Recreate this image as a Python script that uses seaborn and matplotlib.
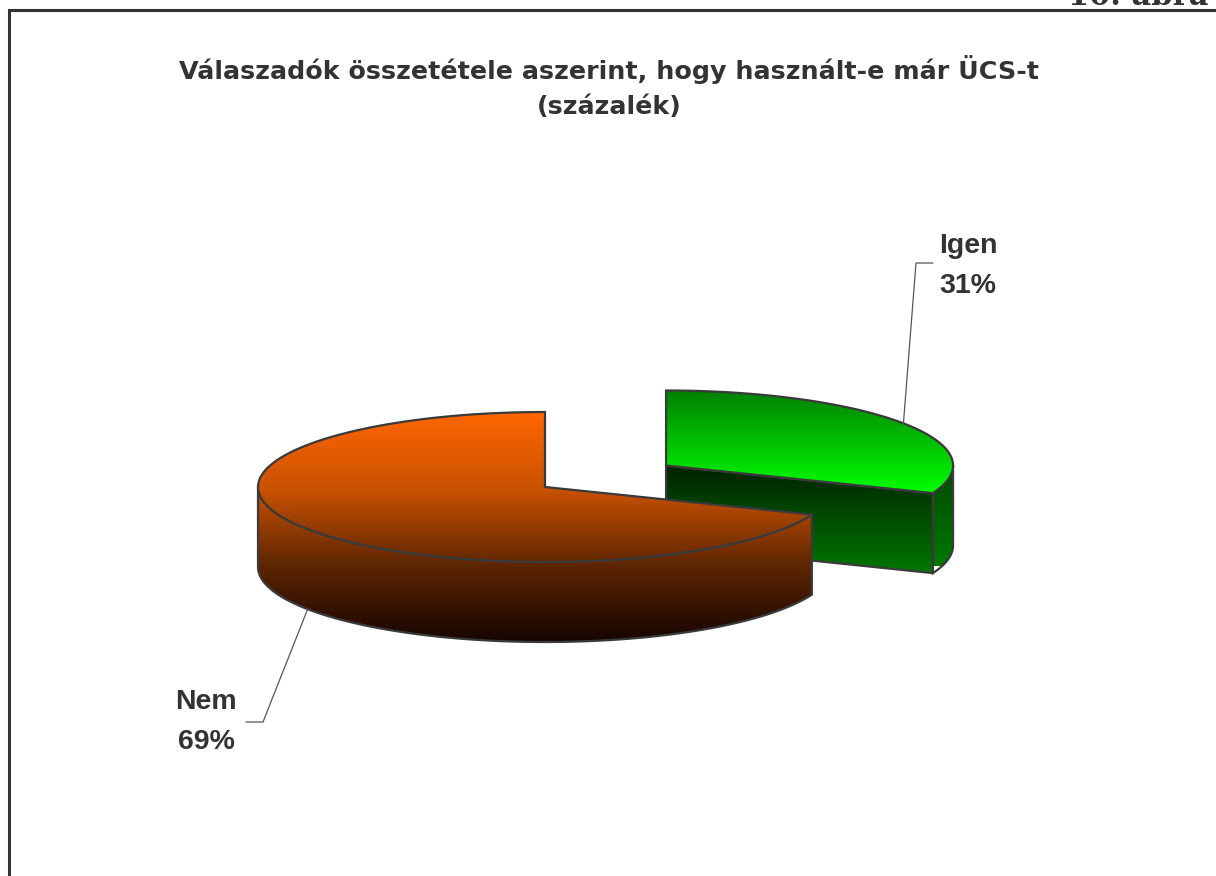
import numpy as np
import seaborn as sns
import matplotlib.pyplot as plt
from matplotlib.patches import Polygon

# data
labels = ["Igen", "Nem"]
values = [31, 69]
title = "Válaszadók összetétele aszerint, hogy használt-e már ÜCS-t\n(százalék)"

sns.set_theme(style="white")
plt.rcParams['font.family'] = ['Liberation Sans', 'DejaVu Sans']

fig = plt.figure(figsize=(12.16, 8.76), dpi=100)
ax = fig.add_axes([0, 0, 1, 1])
ax.axis('off')

# pie geometry (pixels)
cx, cy = 545, 487
A, B, D = 287, 75, 80
explode = 0.51
edge = "#3a3a3a"

shares = np.array(values) / sum(values) * 360
starts = np.concatenate([[0], np.cumsum(shares)[:-1]])
ends = starts + shares
mids = (starts + ends) / 2


def rim(x0, y0, t0, t1, n=120):
    t = np.radians(np.linspace(t0, t1, n))
    return np.column_stack([x0 + A * np.sin(t), y0 - B * np.cos(t)])


def fill_grad(poly, colors, y0, y1, z):
    patch = Polygon(poly, closed=True, facecolor="none", edgecolor=edge, lw=1.6, zorder=z + 0.5)
    ax.add_patch(patch)
    cmap = sns.blend_palette(colors, as_cmap=True)
    grad = np.linspace(0, 1, 256).reshape(-1, 1)
    xs = poly[:, 0]
    im = ax.imshow(grad, cmap=cmap, aspect='auto', origin='upper',
                   extent=(xs.min() - 2, xs.max() + 2, y1, y0), zorder=z)
    im.set_clip_path(patch)


# Igen slice (exploded, drawn first)
t0, t1, tm = starts[0], ends[0], mids[0]
gx = cx + A * explode * np.sin(np.radians(tm))
gy = cy - B * explode * np.cos(np.radians(tm))
p_end = rim(gx, gy, t1, t1, 1)[0]
front = np.array([[gx, gy], p_end, p_end + [0, D], [gx, gy + D]])
fill_grad(front, ["#002200", "#007a00"], gy, gy + D + 30, 1)
top_arc = rim(gx, gy, max(t0, 90), t1)
wall = np.vstack([top_arc, top_arc[::-1] + [0, D]])
fill_grad(wall, ["#004a00", "#007800"], gy, gy + D + 20, 1)
top = np.vstack([[gx, gy], rim(gx, gy, t0, t1)])
fill_grad(top, ["#008000", "#00ff00"], gy - B, p_end[1], 2)

# Nem slice
orange = ["#ff6600", "#c95200", "#5e2600", "#150500"]
t0, t1, tm = starts[1], ends[1], mids[1]
top_arc = rim(cx, cy, t0, min(t1, 270))
wall = np.vstack([top_arc, top_arc[::-1] + [0, D]])
fill_grad(wall, orange, cy - B, cy + B + D, 3)
top = np.vstack([[cx, cy], rim(cx, cy, t0, t1)])
fill_grad(top, orange, cy - B, cy + B + D, 4)

# labels with leader lines
txt = "#333333"
lfont = dict(fontsize=20.5, fontweight='bold', color=txt, ha='center', va='center', linespacing=1.7)
ig = rim(gx, gy, mids[0], mids[0], 1)[0]
ax.plot([ig[0], 916, 933], [ig[1], 263, 263], color="#555555", lw=0.9, zorder=6)
ax.text(968, 266, f"{labels[0]}\n{values[0]}%", **lfont)
nm = rim(cx, cy, mids[1], mids[1], 1)[0] + [0, D]
ax.plot([nm[0], 263, 246], [nm[1], 722, 722], color="#555555", lw=0.9, zorder=6)
ax.text(206, 722, f"{labels[1]}\n{values[1]}%", **lfont)

# title
ax.text(609, 87, title, fontsize=18.3, fontweight='bold', family='DejaVu Sans', color=txt,
        ha='center', va='center', linespacing=1.55)

# frame and cut-off caption
ax.plot([9, 9, 1216], [876, 10, 10], color="#333333", lw=2.2, solid_joinstyle='miter', zorder=7)
ax.text(1208, 5, "10. ábra", fontsize=22, fontweight='bold', family='DejaVu Serif', color="#333333",
        ha='right', va='baseline')

ax.set_xlim(0, 1216)
ax.set_ylim(876, 0)
fig.savefig("out.png", dpi=100, facecolor="white")
